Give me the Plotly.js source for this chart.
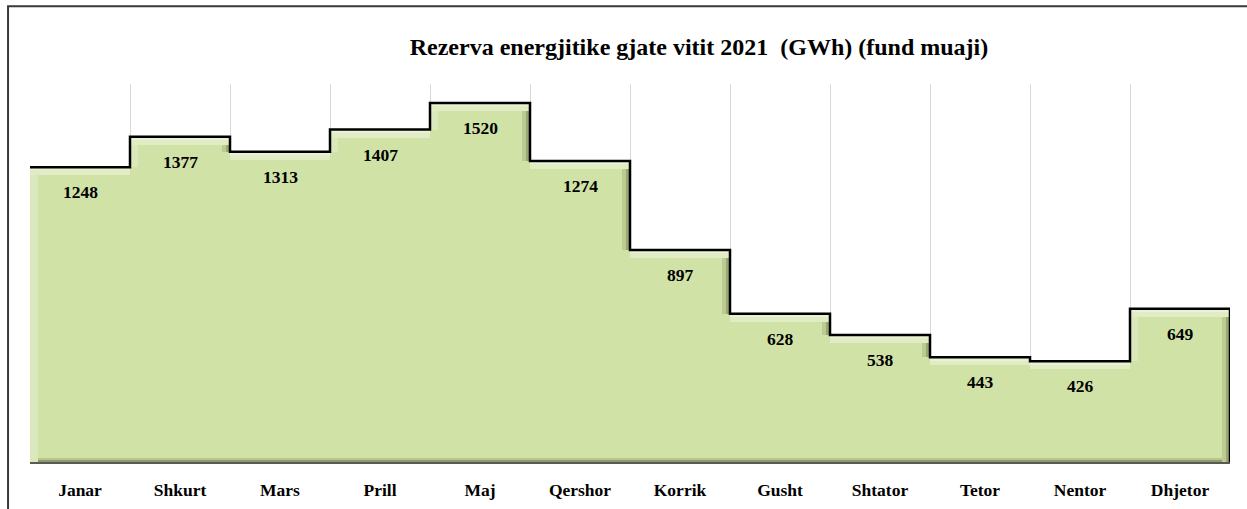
<!DOCTYPE html>
<html>
<head>
<meta charset="utf-8">
<script src="https://cdn.plot.ly/plotly-3.0.1.min.js"></script>
<style>html,body{margin:0;padding:0;background:#fff;}#chart{width:1247px;height:509px;}</style>
</head>
<body>
<div id="chart"></div>
<script>
const months = ["Janar","Shkurt","Mars","Prill","Maj","Qershor","Korrik","Gusht","Shtator","Tetor","Nentor","Dhjetor"];
const reserve = [1248,1377,1313,1407,1520,1274,897,628,538,443,426,649];
const titleText = "Rezerva energjitike gjate vitit 2021  (GWh) (fund muaji)";

const idx = months.map((m,i)=>i);
const bevel = 34;      // bevel depth in data units (vertical)
const bevelW = 0.08;   // bevel width in category units (horizontal)
const serif = 'Liberation Serif, Times New Roman, serif';

const main = {type:'bar', x:idx, y:reserve, width:1, marker:{color:'#d1e2a7', line:{width:0}}, hoverinfo:'skip', showlegend:false};
const topHi = {type:'bar', x:idx, y:reserve.map(()=>bevel), base:reserve.map(v=>v-bevel), width:1,
  marker:{color:'#e1ecc5', line:{width:0}}, hoverinfo:'skip', showlegend:false};
const topHi2 = {type:'bar', x:idx, y:reserve.map(()=>bevel*0.4), base:reserve.map(v=>v-bevel*0.4), width:1,
  marker:{color:'#eaf2d6', line:{width:0}}, hoverinfo:'skip', showlegend:false};
const botSh = {type:'bar', x:idx, y:reserve.map(()=>bevel*0.5), base:0, width:1,
  marker:{color:'#b8c68e', line:{width:0}}, hoverinfo:'skip', showlegend:false};
const botSh2 = {type:'bar', x:idx, y:reserve.map(()=>bevel*0.22), base:0, width:1,
  marker:{color:'#8e9a6a', line:{width:0}}, hoverinfo:'skip', showlegend:false};
const rBase = reserve.map((v,i)=> i<reserve.length-1 ? Math.min(reserve[i+1], v) : 0);
const rightSh = {type:'bar', x:idx, y:reserve.map((v,i)=>v-rBase[i]), base:rBase, width:bevelW, offset:0.5-bevelW,
  marker:{color:'#bccb91', line:{width:0}}, hoverinfo:'skip', showlegend:false};
const rightSh2 = {type:'bar', x:idx, y:reserve.map((v,i)=>v-rBase[i]), base:rBase, width:bevelW*0.45, offset:0.5-bevelW*0.45,
  marker:{color:'#9aa874', line:{width:0}}, hoverinfo:'skip', showlegend:false};
const lBase = reserve.map((v,i)=> i>0 ? Math.min(reserve[i-1], v) : 0);
const leftHi = {type:'bar', x:idx, y:reserve.map((v,i)=>v-lBase[i]), base:lBase, width:bevelW, offset:-0.5,
  marker:{color:'#dbe8bb', line:{width:0}}, hoverinfo:'skip', showlegend:false};

const sx = idx.map(i=>i-0.5).concat([idx.length-0.5, idx.length-0.5]);
const sy = reserve.concat([reserve[reserve.length-1], 0]);
const step = {type:'scatter', mode:'lines', x:sx, y:sy, line:{shape:'hv', color:'#000', width:2.5}, hoverinfo:'skip', showlegend:false, cliponaxis:false};

const annotations = reserve.map((v,i)=>({x:i, y:v, xref:'x', yref:'y', text:'<b>'+v+'</b>', showarrow:false, yshift:-25,
  font:{family:serif, size:17.5, color:'#000'}}));

const layout = {
  width:1247, height:509,
  margin:{l:30, r:17, t:84, b:47},
  paper_bgcolor:'#fff', plot_bgcolor:'#fff',
  barmode:'overlay', bargap:0,
  title:{text:'<b>'+titleText+'</b>', xref:'paper', x:0.5575, xanchor:'center', yref:'container', y:0.908, yanchor:'middle',
    font:{family:serif, size:24, color:'#000'}},
  xaxis:{range:[-0.5, 11.5], tickmode:'array', tickvals:idx, ticktext:months.map(m=>'<b>'+m+'</b>'),
    showgrid:false, zeroline:false, showline:true, linecolor:'#595959', linewidth:1.5,
    ticks:'outside', ticklen:11, tickcolor:'rgba(0,0,0,0)',
    tickfont:{family:serif, size:17.5, color:'#000'},
    minor:{tickmode:'linear', tick0:-0.5, dtick:1, showgrid:true, gridcolor:'#d9d9d9', gridwidth:1, ticks:''}},
  yaxis:{range:[0,1600], showgrid:false, zeroline:false, showticklabels:false, showline:false},
  annotations:annotations,
  shapes:[{type:'rect', xref:'paper', yref:'paper', x0:-0.0183, x1:1.2, y0:-0.3, y1:1.206, line:{color:'#3a3a3a', width:2}, fillcolor:'rgba(0,0,0,0)', layer:'above'}]
};

Plotly.newPlot('chart', [main, botSh, botSh2, rightSh, rightSh2, leftHi, topHi, topHi2, step], layout, {displayModeBar:false, staticPlot:true});
</script>
</body>
</html>
